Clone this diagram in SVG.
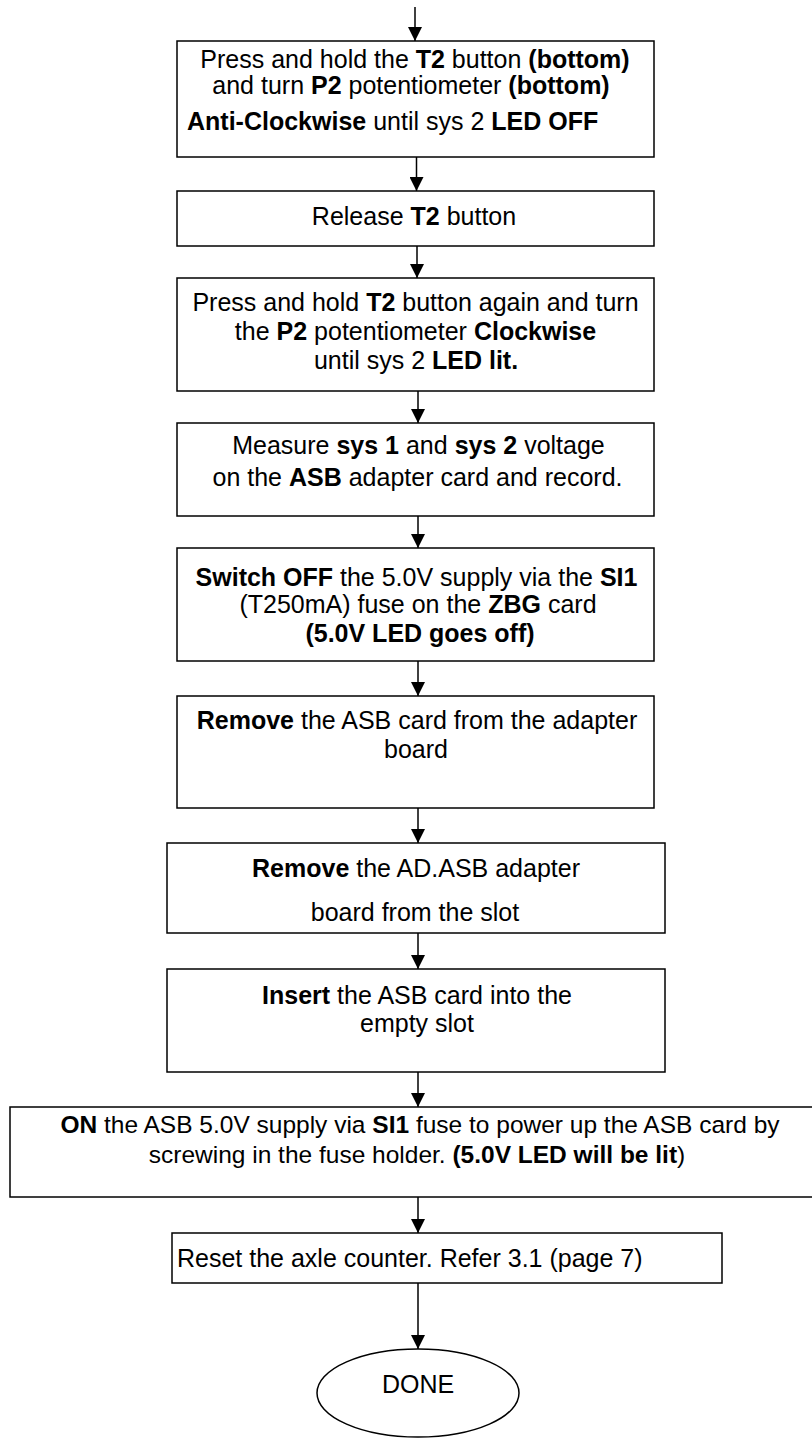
<svg xmlns="http://www.w3.org/2000/svg" width="812" height="1438" viewBox="0 0 812 1438">
<style>
.box{fill:#fff;stroke:#000;stroke-width:1.5}
.t{font-family:"Liberation Sans",Arial,Helvetica,sans-serif;font-size:25px;fill:#000}
.m{text-anchor:middle}
.b{font-weight:bold}
.c{stroke:#000;stroke-width:1.5;fill:none}
</style>
<defs>
<marker id="ah" markerUnits="userSpaceOnUse" markerWidth="14" markerHeight="14" refX="14" refY="7" orient="auto">
<path d="M0,0 L14,7 L0,14 z" fill="#000"/>
</marker>
</defs>
<rect width="812" height="1438" fill="#fff"/>
<g id="connectors">
<line class="c" x1="415" y1="7" x2="415" y2="41" marker-end="url(#ah)"/>
<line class="c" x1="416.5" y1="157" x2="416.5" y2="191" marker-end="url(#ah)"/>
<line class="c" x1="417" y1="246" x2="417" y2="278" marker-end="url(#ah)"/>
<line class="c" x1="418" y1="391" x2="418" y2="423" marker-end="url(#ah)"/>
<line class="c" x1="418" y1="516" x2="418" y2="548" marker-end="url(#ah)"/>
<line class="c" x1="418" y1="661" x2="418" y2="696" marker-end="url(#ah)"/>
<line class="c" x1="418" y1="808" x2="418" y2="843" marker-end="url(#ah)"/>
<line class="c" x1="418" y1="933" x2="418" y2="969" marker-end="url(#ah)"/>
<line class="c" x1="418" y1="1072" x2="418" y2="1107" marker-end="url(#ah)"/>
<line class="c" x1="418" y1="1197" x2="418" y2="1233" marker-end="url(#ah)"/>
<line class="c" x1="418" y1="1283" x2="418" y2="1349" marker-end="url(#ah)"/>
</g>
<g id="n1">
<rect class="box" x="177" y="41" width="477" height="116"/>
<text class="t m" x="415" y="68">Press and hold the <tspan class="b">T2</tspan> button <tspan class="b">(bottom)</tspan></text>
<text class="t m" x="411" y="94">and turn <tspan class="b">P2</tspan> potentiometer <tspan class="b">(bottom)</tspan></text>
<text class="t" x="187" y="130"><tspan class="b">Anti-Clockwise</tspan> until sys 2 <tspan class="b">LED OFF</tspan></text>
</g>
<g id="n2">
<rect class="box" x="177" y="191" width="477" height="55"/>
<text class="t m" x="414" y="225">Release <tspan class="b">T2</tspan> button</text>
</g>
<g id="n3">
<rect class="box" x="177" y="278" width="477" height="113"/>
<text class="t m" x="415.5" y="311">Press and hold <tspan class="b">T2</tspan> button again and turn</text>
<text class="t m" x="415.5" y="340">the <tspan class="b">P2</tspan> potentiometer <tspan class="b">Clockwise</tspan></text>
<text class="t m" x="416" y="369">until sys 2 <tspan class="b">LED lit.</tspan></text>
</g>
<g id="n4">
<rect class="box" x="177" y="423" width="477" height="93"/>
<text class="t m" x="418.5" y="454">Measure <tspan class="b">sys 1</tspan> and <tspan class="b">sys 2</tspan> voltage</text>
<text class="t m" x="417.5" y="486">on the <tspan class="b">ASB</tspan> adapter card and record.</text>
</g>
<g id="n5">
<rect class="box" x="177" y="548" width="477" height="113"/>
<text class="t m" x="416.5" y="586"><tspan class="b">Switch OFF</tspan> the 5.0V supply via the <tspan class="b">SI1</tspan></text>
<text class="t m" x="418" y="613">(T250mA) fuse on the <tspan class="b">ZBG</tspan> card</text>
<text class="t m b" x="420" y="642">(5.0V LED goes off)</text>
</g>
<g id="n6">
<rect class="box" x="177" y="696" width="477" height="112"/>
<text class="t m" x="417" y="729"><tspan class="b">Remove</tspan> the ASB card from the adapter</text>
<text class="t m" x="416" y="758">board</text>
</g>
<g id="n7">
<rect class="box" x="167" y="843" width="498" height="90"/>
<text class="t m" x="416" y="877"><tspan class="b">Remove</tspan> the AD.ASB adapter</text>
<text class="t m" x="415" y="921">board from the slot</text>
</g>
<g id="n8">
<rect class="box" x="167" y="969" width="498" height="103"/>
<text class="t m" x="417" y="1004"><tspan class="b">Insert</tspan> the ASB card into the</text>
<text class="t m" x="417" y="1032">empty slot</text>
</g>
<g id="n9">
<rect class="box" x="10" y="1107" width="805" height="90"/>
<text class="t m" x="420" y="1133" style="font-size:24.5px"><tspan class="b">ON</tspan> the ASB 5.0V supply via <tspan class="b">SI1</tspan> fuse to power up the ASB card by</text>
<text class="t m" x="417" y="1163" style="font-size:24.5px">screwing in the fuse holder. <tspan class="b">(5.0V LED will be lit</tspan>)</text>
</g>
<g id="n10">
<rect class="box" x="172" y="1233" width="550" height="50"/>
<text class="t" x="177" y="1267">Reset the axle counter. Refer 3.1 (page 7)</text>
</g>
<g id="n11">
<ellipse class="box" cx="418" cy="1393" rx="101" ry="44"/>
<text class="t m" x="418" y="1393">DONE</text>
</g>
</svg>
